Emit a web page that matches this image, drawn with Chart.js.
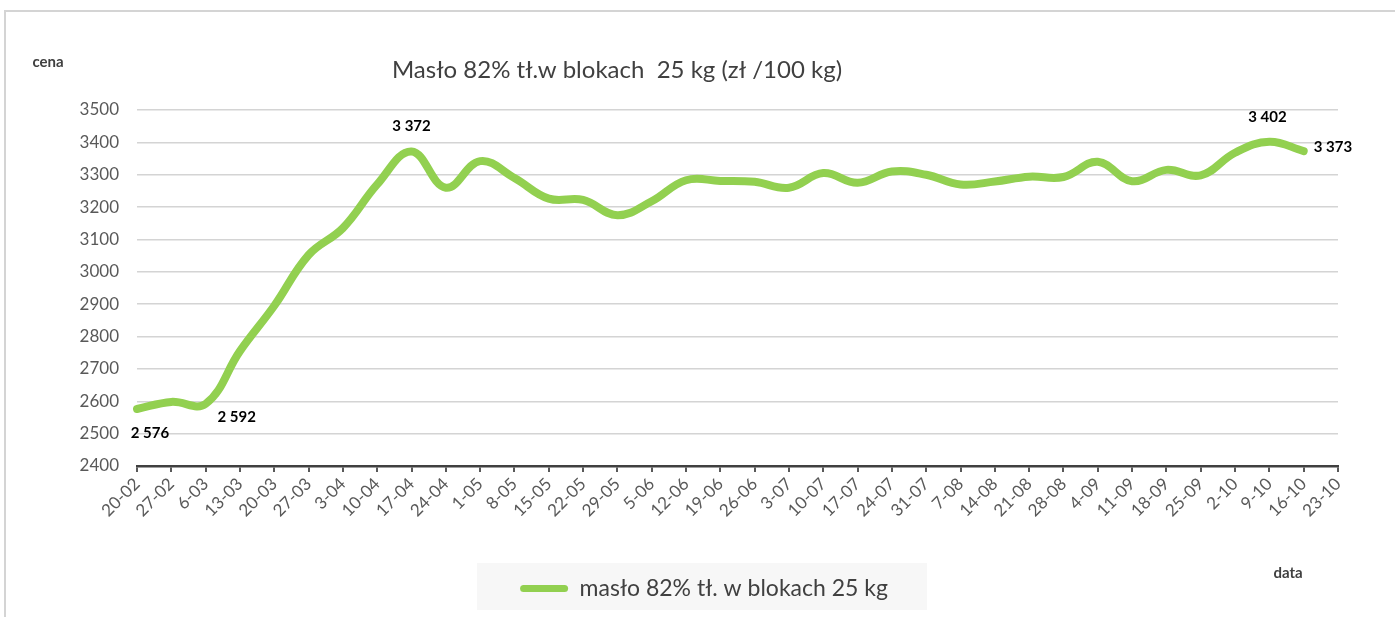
<!DOCTYPE html>
<html><head><meta charset="utf-8">
<script src="https://cdn.jsdelivr.net/npm/chart.js@4.4.0/dist/chart.umd.min.js"></script>
<style>
html,body{margin:0;padding:0;background:#fff;overflow:hidden}
#wrap{position:relative;width:1395px;height:617px;overflow:hidden}
#frame{position:absolute;left:4px;top:10px;width:1400px;height:620px;border-top:2px solid #d4d4d4;border-left:2px solid #d4d4d4}
canvas{position:absolute;left:0;top:0}
</style></head><body>
<div id="wrap"><div id="frame"></div><canvas id="c" width="1395" height="617"></canvas></div>
<script>
const categories = ['20-02','27-02','6-03','13-03','20-03','27-03','3-04','10-04','17-04','24-04','1-05','8-05','15-05','22-05','29-05','5-06','12-06','19-06','26-06','3-07','10-07','17-07','24-07','31-07','7-08','14-08','21-08','28-08','4-09','11-09','18-09','25-09','2-10','9-10','16-10','23-10'];
const prices = [2576,2598,2592,2755,2895,3052,3135,3270,3372,3260,3342,3290,3226,3222,3175,3218,3283,3281,3278,3260,3305,3275,3310,3300,3270,3279,3294,3293,3340,3280,3315,3298,3368,3402,3373,null];
const seriesName = 'masło 82% tł. w blokach 25 kg';
const chartTitle = 'Masło 82% tł.w blokach  25 kg (zł /100 kg)';
const yAxisTitle = 'cena';
const xAxisTitle = 'data';
const yMin = 2400, yMax = 3500, yStep = 100;
const labelledPoints = [0, 2, 8, 33, 34];

// styling of value labels (offsets from the point)
const labelStyle = {
  0: {dx: 13, dy: 24, align: 'center'},
  2: {dx: 31, dy: 13, align: 'center'},
  8: {dx: 0, dy: -25, align: 'center'},
  33: {dx: -2, dy: -25, align: 'center'},
  34: {dx: 10, dy: -4, align: 'left'}
};
function fmt(v){ const s = String(v); return s.length > 3 ? s.slice(0, -3) + ' ' + s.slice(-3) : s; }

const annot = {
  id: 'annot',
  beforeDraw(chart){
    const ctx = chart.ctx; ctx.save();
    ctx.fillStyle = '#f7f7f7'; ctx.fillRect(477, 563, 450, 47);
    ctx.restore();
  },
  afterDatasetsDraw(chart){
    const ctx = chart.ctx; const meta = chart.getDatasetMeta(0);
    ctx.save();
    ctx.font = 'bold 15px Lato'; ctx.fillStyle = '#000'; ctx.textBaseline = 'middle';
    labelledPoints.forEach(i => {
      const p = meta.data[i]; const st = labelStyle[i];
      ctx.textAlign = st.align;
      ctx.fillText(fmt(prices[i]), p.x + st.dx, p.y + st.dy);
    });
    ctx.restore();
  },
  afterDraw(chart){
    const ctx = chart.ctx; ctx.save();
    ctx.textBaseline = 'middle'; ctx.textAlign = 'center';
    ctx.fillStyle = '#404040';
    ctx.font = '24px Lato';
    ctx.fillText(chartTitle, 617, 70);
    ctx.font = 'bold 15px Lato';
    ctx.fillText(yAxisTitle, 48, 62);
    ctx.fillText(xAxisTitle, 1288, 573);
    ctx.restore();
  }
};

new Chart(document.getElementById('c').getContext('2d'), {
  type: 'line',
  data: {
    labels: categories,
    datasets: [{
      label: seriesName, data: prices,
      borderColor: '#92d050', backgroundColor: '#92d050', borderWidth: 8,
      tension: 0.4, pointRadius: 0, pointHoverRadius: 0, fill: false,
      borderCapStyle: 'round', borderJoinStyle: 'round'
    }]
  },
  options: {
    responsive: false, animation: false, devicePixelRatio: 1,
    layout: {padding: {top: 110, left: 70, right: 57, bottom: 7}},
    plugins: {
      title: {display: false}, tooltip: {enabled: false},
      legend: {
        position: 'bottom',
        labels: {
          boxWidth: 48, boxHeight: 7, useBorderRadius: true, borderRadius: 3.5,
          color: '#404040', font: {family: 'Lato', size: 23}, padding: 10,
          generateLabels(){ return [{text: seriesName, fillStyle: '#92d050', strokeStyle: '#92d050', lineWidth: 0, hidden: false, datasetIndex: 0, fontColor: '#404040', borderRadius: 3.5}]; }
        }
      }
    },
    scales: {
      x: {
        offset: false,
        grid: {drawOnChartArea: false, drawTicks: true, tickLength: 6, color: '#595959', lineWidth: 2},
        border: {display: true, color: '#404040', width: 2.5},
        ticks: {autoSkip: false, minRotation: 45, maxRotation: 45, color: '#595959', font: {family: 'Lato', size: 17}, padding: 2},
        afterFit(s){ s.height = 101; s.paddingLeft = 0; s.paddingRight = 0; }
      },
      y: {
        min: yMin, max: yMax,
        ticks: {stepSize: yStep, color: '#595959', font: {family: 'Lato', size: 17}, padding: 18, callback: v => String(v)},
        grid: {color: '#d4d4d4', lineWidth: 1.5, drawTicks: false},
        border: {display: false},
        afterFit(s){ s.width = 67; s.paddingTop = 0; s.paddingBottom = 0; }
      }
    }
  },
  plugins: [annot]
});
</script>
</body></html>
